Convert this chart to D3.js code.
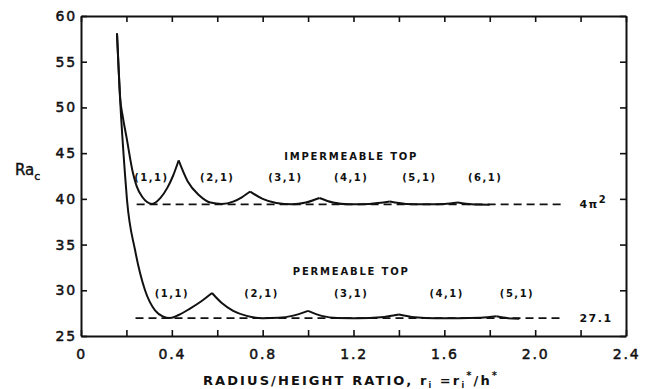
<!DOCTYPE html>
<html>
<head>
<meta charset="utf-8">
<script src="https://cdn.jsdelivr.net/npm/d3@7"></script>
<style>
  body { margin: 0; background: #fff; }
  text { font-family: "DejaVu Sans", sans-serif; fill: #111; }
</style>
</head>
<body>
<div id="chart"></div>
<script>
// datos
const impX  = [0.1585, 0.165, 0.172, 0.184, 0.20, 0.229, 0.245, 0.27, 0.313, 0.35, 0.38, 0.405, 0.43, 0.47, 0.52, 0.57, 0.62, 0.67, 0.71, 0.745, 0.80, 0.86, 0.93, 0.99, 1.05, 1.11, 1.18, 1.27, 1.36, 1.43, 1.52, 1.60, 1.66, 1.72, 1.80]
const impRa = [58.1, 54.5, 51.2, 49.0, 46.8, 42.8, 41.4, 40.2, 39.45, 40.1, 41.2, 42.5, 44.2, 41.9, 40.4, 39.6, 39.45, 39.7, 40.2, 40.8, 40.0, 39.55, 39.4, 39.6, 40.1, 39.6, 39.4, 39.45, 39.7, 39.45, 39.4, 39.45, 39.6, 39.4, 39.35]

const permX  = [0.1585, 0.172, 0.194, 0.2025, 0.238, 0.282, 0.326, 0.36, 0.392, 0.43, 0.48, 0.53, 0.577, 0.62, 0.67, 0.73, 0.80, 0.87, 0.93, 1.00, 1.06, 1.13, 1.22, 1.32, 1.40, 1.47, 1.56, 1.66, 1.76, 1.83, 1.88, 1.93]
const permRa = [58.1, 51.0, 42.6, 39.9, 34.4, 30.0, 27.8, 27.15, 26.97, 27.3, 28.0, 28.8, 29.7, 28.6, 27.75, 27.2, 26.95, 27.0, 27.2, 27.75, 27.2, 26.97, 26.95, 27.05, 27.35, 27.05, 26.95, 26.95, 27.0, 27.15, 26.95, 26.9]

// asintotas (lineas discontinuas)
const asymptotes = [
  {level: 39.4, x0: 0.245, x1: 2.12, label: "4\u03c0", sup: "2"},
  {level: 26.95, x0: 0.24, x1: 2.12, label: "27.1", sup: ""}
]

// etiquetas de modos
const impModes  = ["(1,1)", "(2,1)", "(3,1)", "(4,1)", "(5,1)", "(6,1)"]
const impModeX  = [0.31, 0.60, 0.90, 1.19, 1.49, 1.78]
const permModes = ["(1,1)", "(2,1)", "(3,1)", "(4,1)", "(5,1)"]
const permModeX = [0.40, 0.795, 1.19, 1.61, 1.92]

const xTicks = [0, 0.2, 0.4, 0.6, 0.8, 1.0, 1.2, 1.4, 1.6, 1.8, 2.0, 2.2, 2.4]
const yTicks = [25, 30, 35, 40, 45, 50, 55, 60]

const width = 647
const height = 389

const svg = d3.select("div#chart").append("svg").attr("width", width).attr("height", height)

const x = d3.scaleLinear().domain([0, 2.4]).range([81, 626])
const y = d3.scaleLinear().domain([25, 60]).range([336, 16])

// ejes (caja completa, ticks hacia dentro)
const fmt = v => {
  const k = Math.round(v * 10)
  if (k % 4 !== 0) return ""
  return v === 0 ? "0" : v.toFixed(1)
}
const axisB = svg.append("g").attr("transform", `translate(0,${y(25)})`)
  .call(d3.axisBottom(x).tickValues(xTicks).tickSizeInner(-6).tickSizeOuter(0).tickPadding(13).tickFormat(fmt))
const axisT = svg.append("g").attr("transform", `translate(0,${y(60)})`)
  .call(d3.axisTop(x).tickValues(xTicks).tickSizeInner(-6).tickSizeOuter(0).tickFormat(""))
const axisL = svg.append("g").attr("transform", `translate(${x(0)},0)`)
  .call(d3.axisLeft(y).tickValues(yTicks).tickSizeInner(-6).tickSizeOuter(0).tickPadding(4))
const axisR = svg.append("g").attr("transform", `translate(${x(2.4)},0)`)
  .call(d3.axisRight(y).tickValues(yTicks).tickSizeInner(-6).tickSizeOuter(0).tickFormat(""))

svg.selectAll(".domain").attr("stroke", "#111").attr("stroke-width", 2)
svg.selectAll(".tick line").attr("stroke", "#111").attr("stroke-width", 1.6)
svg.selectAll(".tick text").attr("font-size", 14).attr("letter-spacing", "1.8px").attr("fill", "#111")
  .attr("font-family", "DejaVu Sans").attr("stroke", "#111").attr("stroke-width", 0.5)
axisB.selectAll(".tick text").attr("dy", "0.71em")

// curvas: se parten en los picos para que queden en punta
function segments(xs, ys) {
  const pts = xs.map((d, i) => [d, ys[i]])
  const segs = []
  let cur = [pts[0]]
  for (let i = 1; i < pts.length; i++) {
    cur.push(pts[i])
    const isPeak = i < pts.length - 1 && pts[i][1] > pts[i - 1][1] && pts[i][1] > pts[i + 1][1]
    if (isPeak) { segs.push(cur); cur = [pts[i]] }
  }
  segs.push(cur)
  return segs
}
const line = d3.line().x(d => x(d[0])).y(d => y(d[1])).curve(d3.curveMonotoneX)

const curves = svg.append("g").attr("class", "curves")
;[[impX, impRa], [permX, permRa]].forEach(([xs, ys]) => {
  curves.selectAll(null).data(segments(xs, ys)).enter().append("path")
    .attr("d", line)
    .attr("fill", "none")
    .attr("stroke", "#111")
    .attr("stroke-width", 2)
    .attr("stroke-linejoin", "round")
})

// asintotas
svg.selectAll(".asym").data(asymptotes).enter().append("line")
  .attr("class", "asym")
  .attr("x1", d => x(d.x0)).attr("x2", d => x(d.x1))
  .attr("y1", d => y(d.level)).attr("y2", d => y(d.level))
  .attr("stroke", "#111").attr("stroke-width", 1.6).attr("stroke-dasharray", "8,5")

const asymLabels = svg.selectAll(".asymLabel").data(asymptotes).enter().append("text")
  .attr("x", x(2.195)).attr("y", d => y(d.level) + 4)
  .attr("font-size", 11).attr("font-weight", "bold").attr("letter-spacing", "1.5px")
asymLabels.append("tspan").text(d => d.label)
asymLabels.append("tspan").attr("dy", -5).attr("font-size", 10).text(d => d.sup)

// etiquetas de modos
svg.selectAll(".impMode").data(impModes).enter().append("text")
  .attr("x", (d, i) => x(impModeX[i])).attr("y", y(41.9))
  .attr("text-anchor", "middle").attr("font-size", 10).attr("font-weight", "bold").attr("letter-spacing", "1.5px")
  .text(d => d)
svg.selectAll(".permMode").data(permModes).enter().append("text")
  .attr("x", (d, i) => x(permModeX[i])).attr("y", y(29.3))
  .attr("text-anchor", "middle").attr("font-size", 10).attr("font-weight", "bold").attr("letter-spacing", "1.5px")
  .text(d => d)

svg.append("text").attr("x", x(1.19)).attr("y", y(44.2))
  .attr("text-anchor", "middle").attr("font-size", 10).attr("font-weight", "bold").attr("letter-spacing", "1.8px")
  .text("IMPERMEABLE TOP")
svg.append("text").attr("x", x(1.19)).attr("y", y(31.7))
  .attr("text-anchor", "middle").attr("font-size", 10).attr("font-weight", "bold").attr("letter-spacing", "1.8px")
  .text("PERMEABLE TOP")

// titulos de ejes
const yTitle = svg.append("text").attr("x", 15).attr("y", 175).attr("font-size", 15)
  .attr("stroke", "#111").attr("stroke-width", 0.4)
yTitle.append("tspan").text("Ra")
yTitle.append("tspan").attr("font-size", 11).attr("dy", 5).text("c")

const xTitle = svg.append("text").attr("x", 351).attr("y", 385).attr("text-anchor", "middle")
  .attr("font-size", 13).attr("font-weight", "bold").attr("letter-spacing", "2.1px")
xTitle.append("tspan").text("RADIUS/HEIGHT RATIO,  r")
xTitle.append("tspan").attr("font-size", 8).attr("dy", 3).text("i")
xTitle.append("tspan").attr("dy", -3).text(" =r")
xTitle.append("tspan").attr("font-size", 8).attr("dy", 3).text("i")
xTitle.append("tspan").attr("font-size", 10).attr("dy", -9).text("*")
xTitle.append("tspan").attr("dy", 6).text("/h")
xTitle.append("tspan").attr("font-size", 10).attr("dy", -6).text("*")
</script>
</body>
</html>
